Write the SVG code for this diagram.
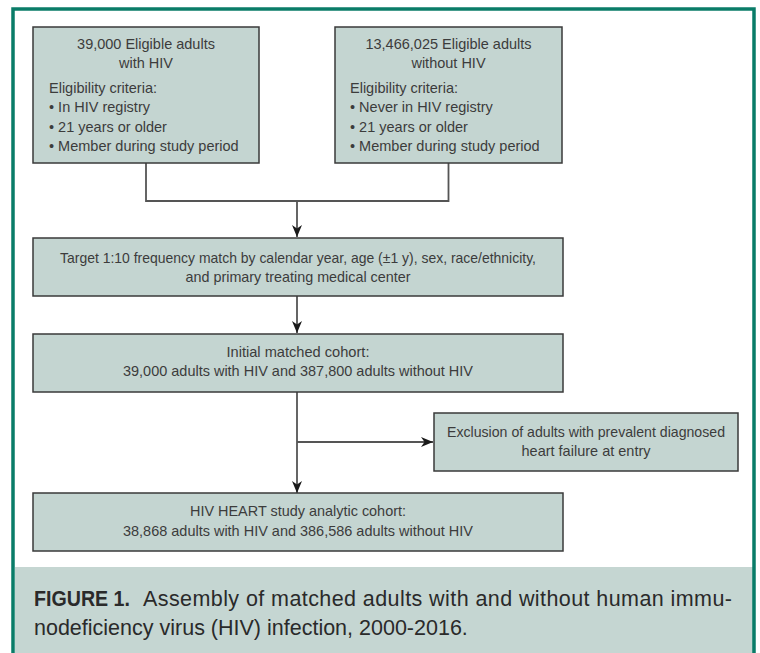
<svg xmlns="http://www.w3.org/2000/svg" width="760" height="653" viewBox="0 0 760 653">
<style>
.box{fill:#c4d5d1;stroke:#3a3a3a;stroke-width:1.5}
.t{font-family:"Liberation Sans",Arial,sans-serif;font-size:14.5px;fill:#3c3c3c}
.c{text-anchor:middle}
.n{font-family:"Liberation Sans",Arial,sans-serif;font-size:15px;fill:#3c3c3c;text-anchor:middle}
.line{fill:none;stroke:#555;stroke-width:1.8}
.cap{font-family:"Liberation Sans",Arial,sans-serif;font-size:21.5px;fill:#2a2a2a}
</style>
<defs>
<marker id="ah" markerUnits="userSpaceOnUse" markerWidth="12" markerHeight="10" viewBox="0 0 12 10" refX="12" refY="5" orient="auto">
<path d="M0,0 L12,5 L0,10 L3.5,5 Z" fill="#1a1a1a"/>
</marker>
</defs>
<rect x="0" y="0" width="760" height="653" fill="#ffffff"/>
<rect x="15" y="567" width="738" height="90" fill="#c5d6d2"/>
<path d="M13,660 L13,9 L754,9 L754,660" fill="none" stroke="#0a7c68" stroke-width="3.5"/>

<g id="connectors">
<path class="line" d="M146,163 L146,201 L448.5,201 L448.5,163"/>
<path class="line" d="M297,201 L297,237" marker-end="url(#ah)"/>
<path class="line" d="M297,296 L297,333" marker-end="url(#ah)"/>
<path class="line" d="M297,392 L297,493" marker-end="url(#ah)"/>
<path class="line" d="M297,442 L433,442" marker-end="url(#ah)"/>
</g>

<g id="node-hiv">
<rect class="box" x="33" y="27" width="226" height="136"/>
<text class="t c" x="146" y="49">39,000 Eligible adults</text>
<text class="t c" x="146" y="68">with HIV</text>
<text class="t" x="49" y="93">Eligibility criteria:</text>
<text class="t" x="49" y="112">• In HIV registry</text>
<text class="t" x="49" y="131.5">• 21 years or older</text>
<text class="t" x="49" y="151">• Member during study period</text>
</g>

<g id="node-nohiv">
<rect class="box" x="335" y="27" width="227" height="136"/>
<text class="t c" x="448.5" y="49">13,466,025 Eligible adults</text>
<text class="t c" x="448.5" y="68">without HIV</text>
<text class="t" x="350" y="93">Eligibility criteria:</text>
<text class="t" x="350" y="112">• Never in HIV registry</text>
<text class="t" x="350" y="131.5">• 21 years or older</text>
<text class="t" x="350" y="151">• Member during study period</text>
</g>

<g id="node-match">
<rect class="box" x="33" y="238" width="530" height="58"/>
<text class="n" x="298" y="263" textLength="476" lengthAdjust="spacingAndGlyphs">Target 1:10 frequency match by calendar year, age (±1 y), sex, race/ethnicity,</text>
<text class="n" x="298" y="282" textLength="225" lengthAdjust="spacingAndGlyphs">and primary treating medical center</text>
</g>

<g id="node-initial">
<rect class="box" x="33" y="334" width="530" height="58"/>
<text class="n" x="298" y="357" textLength="143" lengthAdjust="spacingAndGlyphs">Initial matched cohort:</text>
<text class="n" x="298" y="376" textLength="350" lengthAdjust="spacingAndGlyphs">39,000 adults with HIV and 387,800 adults without HIV</text>
</g>

<g id="node-exclusion">
<rect class="box" x="434" y="413" width="304" height="58"/>
<text class="n" x="586" y="437" textLength="278" lengthAdjust="spacingAndGlyphs">Exclusion of adults with prevalent diagnosed</text>
<text class="n" x="586" y="456" textLength="129" lengthAdjust="spacingAndGlyphs">heart failure at entry</text>
</g>

<g id="node-final">
<rect class="box" x="33" y="493" width="530" height="58"/>
<text class="n" x="298" y="516" textLength="216" lengthAdjust="spacingAndGlyphs">HIV HEART study analytic cohort:</text>
<text class="n" x="298" y="536" textLength="350" lengthAdjust="spacingAndGlyphs">38,868 adults with HIV and 386,586 adults without HIV</text>
</g>

<g id="caption">
<text class="cap" x="34" y="606" font-weight="bold" textLength="96" lengthAdjust="spacingAndGlyphs">FIGURE 1.</text>
<text class="cap" x="143" y="606" textLength="589" lengthAdjust="spacing">Assembly of matched adults with and without human immu-</text>
<text class="cap" x="34" y="635">nodeficiency virus (HIV) infection, 2000-2016.</text>
</g>
</svg>
